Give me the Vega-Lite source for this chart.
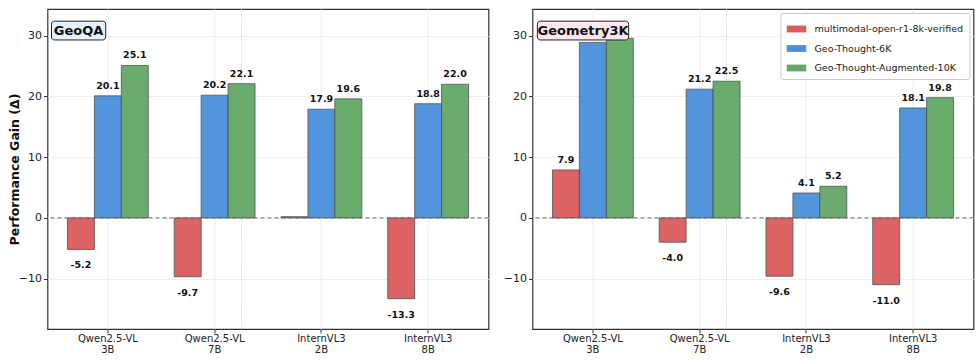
{
  "$schema": "https://vega.github.io/schema/vega-lite/v6.json",
  "padding": {"left": 7.5, "top": 7, "right": 6, "bottom": 4},
  "spacing": 12,
  "config": {
    "font": "DejaVu Sans",
    "locale": {"number": {"decimal": ".", "thousands": ",", "grouping": [3], "currency": ["$", ""], "minus": "-"}},
    "view": {"stroke": "#333333", "strokeWidth": 1.2},
    "axis": {"domain": false, "labelColor": "#222222", "tickColor": "#333333", "tickSize": 4, "gridColor": "#ebebeb", "gridWidth": 0.8},
    "legend": {"orient": "top-right", "offset": 4, "strokeColor": "#cccccc", "fillColor": "#ffffff", "padding": 6, "cornerRadius": 2, "labelFontSize": 9.5, "labelColor": "#222222", "labelLimit": 400, "rowPadding": 4.5, "symbolType": "M-1,-0.35H1V0.35H-1Z", "symbolSize": 380, "symbolStrokeWidth": 0, "symbolOpacity": 1, "labelOffset": 8}
  },
  "datasets": {
    "bars": [
      {"panel": "GeoQA", "model": "Qwen2.5-VL 3B", "dataset": "multimodal-open-r1-8k-verified", "value": -5.2},
      {"panel": "GeoQA", "model": "Qwen2.5-VL 3B", "dataset": "Geo-Thought-6K", "value": 20.1},
      {"panel": "GeoQA", "model": "Qwen2.5-VL 3B", "dataset": "Geo-Thought-Augmented-10K", "value": 25.1},
      {"panel": "GeoQA", "model": "Qwen2.5-VL 7B", "dataset": "multimodal-open-r1-8k-verified", "value": -9.7},
      {"panel": "GeoQA", "model": "Qwen2.5-VL 7B", "dataset": "Geo-Thought-6K", "value": 20.2},
      {"panel": "GeoQA", "model": "Qwen2.5-VL 7B", "dataset": "Geo-Thought-Augmented-10K", "value": 22.1},
      {"panel": "GeoQA", "model": "InternVL3 2B", "dataset": "multimodal-open-r1-8k-verified", "value": 0.2},
      {"panel": "GeoQA", "model": "InternVL3 2B", "dataset": "Geo-Thought-6K", "value": 17.9},
      {"panel": "GeoQA", "model": "InternVL3 2B", "dataset": "Geo-Thought-Augmented-10K", "value": 19.6},
      {"panel": "GeoQA", "model": "InternVL3 8B", "dataset": "multimodal-open-r1-8k-verified", "value": -13.3},
      {"panel": "GeoQA", "model": "InternVL3 8B", "dataset": "Geo-Thought-6K", "value": 18.8},
      {"panel": "GeoQA", "model": "InternVL3 8B", "dataset": "Geo-Thought-Augmented-10K", "value": 22.0},
      {"panel": "Geometry3K", "model": "Qwen2.5-VL 3B", "dataset": "multimodal-open-r1-8k-verified", "value": 7.9},
      {"panel": "Geometry3K", "model": "Qwen2.5-VL 3B", "dataset": "Geo-Thought-6K", "value": 28.9},
      {"panel": "Geometry3K", "model": "Qwen2.5-VL 3B", "dataset": "Geo-Thought-Augmented-10K", "value": 29.6},
      {"panel": "Geometry3K", "model": "Qwen2.5-VL 7B", "dataset": "multimodal-open-r1-8k-verified", "value": -4.0},
      {"panel": "Geometry3K", "model": "Qwen2.5-VL 7B", "dataset": "Geo-Thought-6K", "value": 21.2},
      {"panel": "Geometry3K", "model": "Qwen2.5-VL 7B", "dataset": "Geo-Thought-Augmented-10K", "value": 22.5},
      {"panel": "Geometry3K", "model": "InternVL3 2B", "dataset": "multimodal-open-r1-8k-verified", "value": -9.6},
      {"panel": "Geometry3K", "model": "InternVL3 2B", "dataset": "Geo-Thought-6K", "value": 4.1},
      {"panel": "Geometry3K", "model": "InternVL3 2B", "dataset": "Geo-Thought-Augmented-10K", "value": 5.2},
      {"panel": "Geometry3K", "model": "InternVL3 8B", "dataset": "multimodal-open-r1-8k-verified", "value": -11.0},
      {"panel": "Geometry3K", "model": "InternVL3 8B", "dataset": "Geo-Thought-6K", "value": 18.1},
      {"panel": "Geometry3K", "model": "InternVL3 8B", "dataset": "Geo-Thought-Augmented-10K", "value": 19.8}
    ]
  },
  "resolve": {"legend": {"color": "independent"}},
  "hconcat": [
    {
      "width": 441, "height": 320,
      "resolve": {"scale": {"x": "independent"}},
      "layer": [
        {
          "data": {"values": [{}]},
          "mark": {"type": "rule", "color": "#c8c8c8", "strokeDash": [1, 1.5], "strokeWidth": 1},
          "encoding": {"x": {"datum": 0.44, "type": "quantitative", "scale": {"domain": [0, 1]}, "axis": null}}
        },
        {
          "data": {"name": "bars"},
          "transform": [{"filter": "datum.panel === 'GeoQA'"}],
          "layer": [
            {
              "mark": {"type": "bar", "stroke": "#4a4a4a", "strokeWidth": 0.8, "opacity": 0.95},
              "encoding": {
                "x": {"field": "model", "type": "nominal", "sort": null,
                  "scale": {"paddingInner": 0.243, "paddingOuter": 0.187},
                  "axis": {"title": null, "labelAngle": 0, "labelExpr": "split(datum.label, ' ')", "labelFontSize": 10, "labelLineHeight": 11, "grid": true, "bandPosition": 0.5, "labelPadding": 0}},
                "xOffset": {"field": "dataset", "type": "nominal", "sort": ["multimodal-open-r1-8k-verified", "Geo-Thought-6K", "Geo-Thought-Augmented-10K"]},
                "y": {"field": "value", "type": "quantitative",
                  "scale": {"domain": [-18.3, 34.4], "nice": false, "zero": false},
                  "axis": {"title": "Performance Gain (Δ)", "titleFontSize": 12.5, "titleFontWeight": "bold", "titleColor": "#111111", "values": [-10, 0, 10, 20, 30], "labelExpr": "replace(datum.label, '-', '−')", "labelFontSize": 11, "grid": true, "titlePadding": -3.5}},
                "color": {"field": "dataset", "type": "nominal",
                  "scale": {"domain": ["multimodal-open-r1-8k-verified", "Geo-Thought-6K", "Geo-Thought-Augmented-10K"], "range": ["#db5a5b", "#4a90dc", "#62a866"]},
                  "legend": null}
              }
            },
            {
              "transform": [{"filter": "datum.value >= 1"}],
              "mark": {"type": "text", "baseline": "bottom", "dy": -5, "fontWeight": "bold", "fontSize": 9.5, "color": "#111111"},
              "encoding": {
                "x": {"field": "model", "type": "nominal", "sort": null},
                "xOffset": {"field": "dataset", "type": "nominal", "sort": ["multimodal-open-r1-8k-verified", "Geo-Thought-6K", "Geo-Thought-Augmented-10K"]},
                "y": {"field": "value", "type": "quantitative"},
                "text": {"field": "value", "type": "quantitative", "format": ".1f"}
              }
            },
            {
              "transform": [{"filter": "datum.value <= -1"}],
              "mark": {"type": "text", "baseline": "top", "dy": 11, "fontWeight": "bold", "fontSize": 9.5, "color": "#111111"},
              "encoding": {
                "x": {"field": "model", "type": "nominal", "sort": null},
                "xOffset": {"field": "dataset", "type": "nominal", "sort": ["multimodal-open-r1-8k-verified", "Geo-Thought-6K", "Geo-Thought-Augmented-10K"]},
                "y": {"field": "value", "type": "quantitative"},
                "text": {"field": "value", "type": "quantitative", "format": ".1f"}
              }
            }
          ]
        },
        {
          "data": {"values": [{}]},
          "mark": {"type": "rule", "color": "#666666", "strokeDash": [4, 3], "strokeWidth": 1},
          "encoding": {"y": {"datum": 0, "type": "quantitative"}}
        },
        {
          "data": {"values": [{}]},
          "mark": {"type": "rect", "fill": "#e6f1fb", "stroke": "#222222", "strokeWidth": 1, "cornerRadius": 3},
          "encoding": {
            "x": {"datum": 0.009, "type": "quantitative", "scale": {"domain": [0, 1]}, "axis": null},
            "x2": {"datum": 0.132},
            "y": {"datum": 29.3, "type": "quantitative"},
            "y2": {"datum": 32.4}
          }
        },
        {
          "data": {"values": [{}]},
          "mark": {"type": "text", "text": "GeoQA", "fontWeight": "bold", "fontSize": 13, "color": "#111111", "baseline": "middle"},
          "encoding": {
            "x": {"datum": 0.0705, "type": "quantitative", "scale": {"domain": [0, 1]}, "axis": null},
            "y": {"datum": 30.85, "type": "quantitative"}
          }
        }
      ]
    },
    {
      "width": 441, "height": 320,
      "resolve": {"scale": {"x": "independent"}},
      "layer": [
        {
          "data": {"values": [{}]},
          "mark": {"type": "rule", "color": "#c8c8c8", "strokeDash": [1, 1.5], "strokeWidth": 1},
          "encoding": {"x": {"datum": 0.44, "type": "quantitative", "scale": {"domain": [0, 1]}, "axis": null}}
        },
        {
          "data": {"name": "bars"},
          "transform": [{"filter": "datum.panel === 'Geometry3K'"}],
          "layer": [
            {
              "mark": {"type": "bar", "stroke": "#4a4a4a", "strokeWidth": 0.8, "opacity": 0.95},
              "encoding": {
                "x": {"field": "model", "type": "nominal", "sort": null,
                  "scale": {"paddingInner": 0.243, "paddingOuter": 0.187},
                  "axis": {"title": null, "labelAngle": 0, "labelExpr": "split(datum.label, ' ')", "labelFontSize": 10, "labelLineHeight": 11, "grid": true, "bandPosition": 0.5, "labelPadding": 0}},
                "xOffset": {"field": "dataset", "type": "nominal", "sort": ["multimodal-open-r1-8k-verified", "Geo-Thought-6K", "Geo-Thought-Augmented-10K"]},
                "y": {"field": "value", "type": "quantitative",
                  "scale": {"domain": [-18.3, 34.4], "nice": false, "zero": false},
                  "axis": {"title": null, "values": [-10, 0, 10, 20, 30], "labelExpr": "replace(datum.label, '-', '−')", "labelFontSize": 11, "grid": true}},
                "color": {"field": "dataset", "type": "nominal",
                  "scale": {"domain": ["multimodal-open-r1-8k-verified", "Geo-Thought-6K", "Geo-Thought-Augmented-10K"], "range": ["#db5a5b", "#4a90dc", "#62a866"]},
                  "legend": {"title": null, "orient": "top-right"}}
              }
            },
            {
              "transform": [{"filter": "datum.value >= 1 && datum.value < 28"}],
              "mark": {"type": "text", "baseline": "bottom", "dy": -5, "fontWeight": "bold", "fontSize": 9.5, "color": "#111111"},
              "encoding": {
                "x": {"field": "model", "type": "nominal", "sort": null},
                "xOffset": {"field": "dataset", "type": "nominal", "sort": ["multimodal-open-r1-8k-verified", "Geo-Thought-6K", "Geo-Thought-Augmented-10K"]},
                "y": {"field": "value", "type": "quantitative"},
                "text": {"field": "value", "type": "quantitative", "format": ".1f"}
              }
            },
            {
              "transform": [{"filter": "datum.value <= -1"}],
              "mark": {"type": "text", "baseline": "top", "dy": 11, "fontWeight": "bold", "fontSize": 9.5, "color": "#111111"},
              "encoding": {
                "x": {"field": "model", "type": "nominal", "sort": null},
                "xOffset": {"field": "dataset", "type": "nominal", "sort": ["multimodal-open-r1-8k-verified", "Geo-Thought-6K", "Geo-Thought-Augmented-10K"]},
                "y": {"field": "value", "type": "quantitative"},
                "text": {"field": "value", "type": "quantitative", "format": ".1f"}
              }
            }
          ]
        },
        {
          "data": {"values": [{}]},
          "mark": {"type": "rule", "color": "#666666", "strokeDash": [4, 3], "strokeWidth": 1},
          "encoding": {"y": {"datum": 0, "type": "quantitative"}}
        },
        {
          "data": {"values": [{}]},
          "mark": {"type": "rect", "fill": "#fce8ee", "stroke": "#222222", "strokeWidth": 1, "cornerRadius": 3},
          "encoding": {
            "x": {"datum": 0.011, "type": "quantitative", "scale": {"domain": [0, 1]}, "axis": null},
            "x2": {"datum": 0.218},
            "y": {"datum": 29.3, "type": "quantitative"},
            "y2": {"datum": 32.4}
          }
        },
        {
          "data": {"values": [{}]},
          "mark": {"type": "text", "text": "Geometry3K", "fontWeight": "bold", "fontSize": 13, "color": "#111111", "baseline": "middle"},
          "encoding": {
            "x": {"datum": 0.1145, "type": "quantitative", "scale": {"domain": [0, 1]}, "axis": null},
            "y": {"datum": 30.85, "type": "quantitative"}
          }
        }
      ]
    }
  ]
}
